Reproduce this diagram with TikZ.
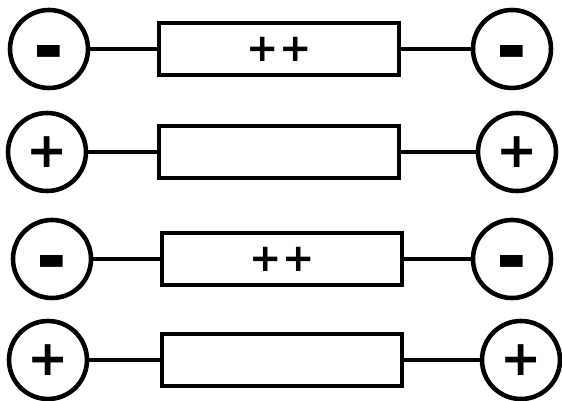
\documentclass[tikz,border=0pt]{standalone}
\usepackage{fontspec}
\setmainfont{DejaVu Sans}
\newcommand{\minussign}{\raisebox{-7.4pt}[0pt][0pt]{\scalebox{1.5}[1.7]{-}}}
\begin{document}
\begin{tikzpicture}[line width=1.3pt,
    ion/.style = {draw, circle, minimum size=0.78cm, inner sep=0pt,
                  font=\fontsize{14}{14}\selectfont\bfseries},
    chain/.style = {draw, rectangle, minimum width=2.40cm, minimum height=0.52cm,
                    inner sep=0pt, font=\fontsize{11}{11}\selectfont\bfseries}]
        \useasboundingbox (0,0) rectangle (5.62,4.01);
        % row 1
        \node[ion] (l1) at (0.49,3.52) {\minussign};
        \node[chain] (b1) at (2.79,3.52) {++};
        \node[ion] (r1) at (5.12,3.52) {\minussign};
        % row 2
        \node[ion] (l2) at (0.47,2.49) {+};
        \node[chain] (b2) at (2.79,2.49) {};
        \node[ion] (r2) at (5.17,2.49) {+};
        % row 3
        \node[ion] (l3) at (0.52,1.42) {\minussign};
        \node[chain] (b3) at (2.82,1.42) {++};
        \node[ion] (r3) at (5.12,1.42) {\minussign};
        % row 4
        \node[ion] (l4) at (0.48,0.41) {+};
        \node[chain] (b4) at (2.82,0.41) {};
        \node[ion] (r4) at (5.21,0.41) {+};
        % bonds
        \draw (l1) -- (b1) -- (r1);
        \draw (l2) -- (b2) -- (r2);
        \draw (l3) -- (b3) -- (r3);
        \draw (l4) -- (b4) -- (r4);
    \end{tikzpicture}
\end{document}
